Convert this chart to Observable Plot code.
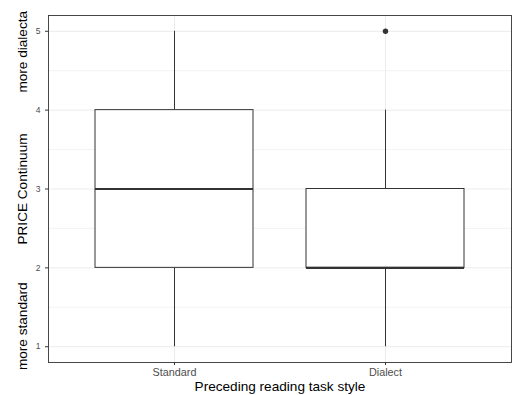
<!DOCTYPE html>
<html>
<head>
<meta charset="utf-8">
<script src="https://cdn.jsdelivr.net/npm/d3@7"></script>
<script src="https://cdn.jsdelivr.net/npm/@observablehq/plot@0.6"></script>
<style>
  html, body { margin: 0; padding: 0; background: #fff; }
  svg { font-family: "Liberation Sans", Arial, Helvetica, sans-serif; }
</style>
</head>
<body>
<div id="chart"></div>
<script>
// Data
const groups = ["Standard", "Dialect"];
const lowerWhisker = [1, 1];
const q1 = [2, 2];
const median = [3, 2];
const q3 = [4, 3];
const upperWhisker = [5, 4];
const outlierGroups = ["Dialect"];
const outlierValues = [5];
const yTicks = [1, 2, 3, 4, 5];
const yMinorTicks = [1.5, 2.5, 3.5, 4.5];
const xTitle = "Preceding reading task style";
const yLabelTexts = ["more standard", "PRICE Continuum", "more dialecta"];
const yLabelPositions = [1.26, 3.0, 4.74];

const boxes = groups.map((g, i) => ({
  group: g, lo: lowerWhisker[i], q1: q1[i], med: median[i], q3: q3[i], hi: upperWhisker[i]
}));
const outliers = outlierGroups.map((g, i) => ({group: g, value: outlierValues[i]}));
const yLabels = yLabelTexts.map((t, i) => ({text: t, y: yLabelPositions[i]}));

const dark = "#333333";
const grid = "#ebebeb";

const chart = Plot.plot({
  width: 512,
  height: 395,
  marginLeft: 48,
  marginRight: 1,
  marginTop: 15,
  marginBottom: 33,
  style: {background: "#fff", fontFamily: "Liberation Sans, Arial, sans-serif"},
  x: {type: "band", domain: groups, paddingInner: 0.25, paddingOuter: 0.222, align: 0.5},
  y: {domain: [0.8, 5.2]},
  marks: [
    Plot.ruleY(yMinorTicks, {stroke: grid, strokeWidth: 0.6}),
    Plot.ruleY(yTicks, {stroke: grid, strokeWidth: 1}),
    Plot.ruleX(groups, {x: d => d, stroke: grid, strokeWidth: 1}),
    Plot.ruleX(boxes, {x: "group", y1: "lo", y2: "q1", stroke: dark, strokeWidth: 1}),
    Plot.ruleX(boxes, {x: "group", y1: "q3", y2: "hi", stroke: dark, strokeWidth: 1}),
    Plot.barY(boxes, {x: "group", y1: "q1", y2: "q3", fill: "white", stroke: dark, strokeWidth: 1}),
    Plot.tickY(boxes, {x: "group", y: "med", stroke: dark, strokeWidth: 2.2}),
    Plot.dot(outliers, {x: "group", y: "value", r: 2.7, fill: dark, stroke: "none"}),
    Plot.frame({stroke: dark, strokeWidth: 0.9}),
    Plot.axisY(yTicks, {tickSize: 3, tickPadding: 5, fontSize: 8.5, fill: "#4d4d4d", stroke: dark, label: null, tickFormat: "d"}),
    Plot.axisX({tickSize: 3, tickPadding: 3, fontSize: 10.8, fill: "#4d4d4d", stroke: dark, label: null}),
    Plot.text([xTitle], {text: d => d, frameAnchor: "bottom", dy: 24, fontSize: 13.6, fill: "#000", lineAnchor: "middle"}),
    Plot.text(yLabels, {text: "text", y: "y", frameAnchor: "left", dx: -26, rotate: -90, fontSize: 13.6, fill: "#000", lineAnchor: "middle", textAnchor: "middle"})
  ]
});
document.getElementById("chart").appendChild(chart);
</script>
</body>
</html>
